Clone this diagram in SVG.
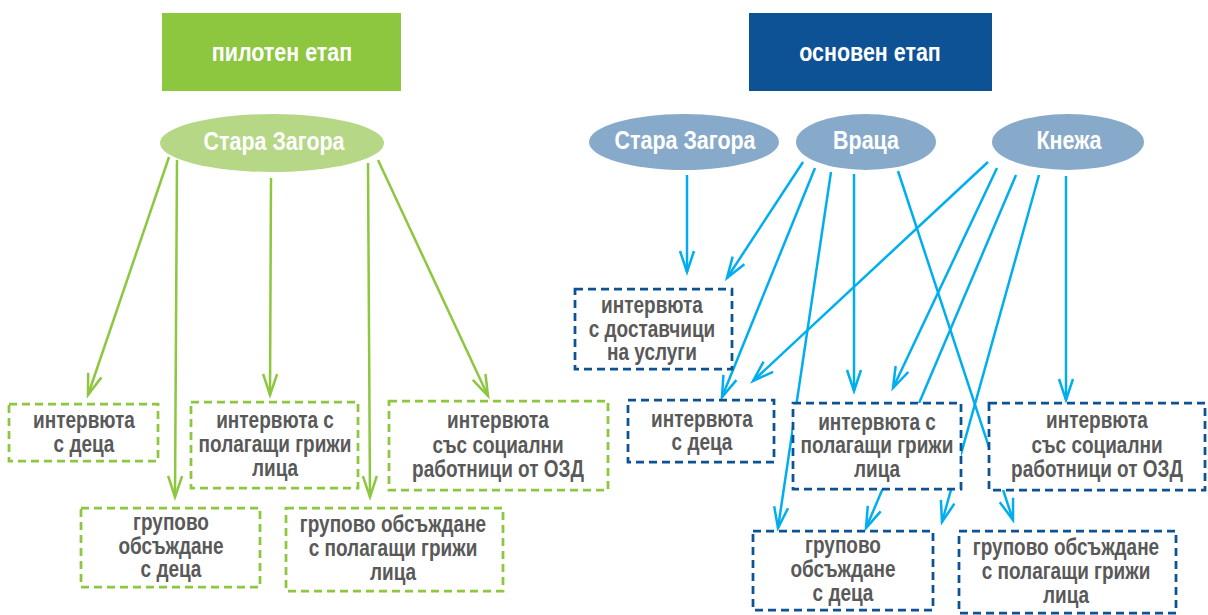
<svg xmlns="http://www.w3.org/2000/svg" width="1208" height="615" viewBox="0 0 1208 615">
<style>
.t{font-family:"Liberation Sans",Arial,sans-serif;font-weight:bold;font-size:23px;fill:#595959;text-anchor:middle}
.w{font-family:"Liberation Sans",Arial,sans-serif;font-weight:bold;font-size:26px;fill:#ffffff;text-anchor:middle}
.gb{fill:#ffffff;stroke:#8DC63F;stroke-width:2.75;stroke-dasharray:8 5}
.bb{fill:#ffffff;stroke:#0D5295;stroke-width:2.75;stroke-dasharray:8 5}
.gl{stroke:#8DC63F;stroke-width:2.5;fill:none;marker-end:url(#ag)}
.bl{stroke:#00AEEF;stroke-width:2.5;fill:none;marker-end:url(#ab)}
</style>
<defs>
<marker id="ag" viewBox="0 0 22 16" markerWidth="22" markerHeight="16" refX="21" refY="8" orient="auto" markerUnits="userSpaceOnUse" overflow="visible">
<path d="M0,1 L21,8 L0,15" fill="none" stroke="#8DC63F" stroke-width="2.5"/>
</marker>
<marker id="ab" viewBox="0 0 22 16" markerWidth="22" markerHeight="16" refX="21" refY="8" orient="auto" markerUnits="userSpaceOnUse" overflow="visible">
<path d="M0,1 L21,8 L0,15" fill="none" stroke="#00AEEF" stroke-width="2.5"/>
</marker>
</defs>

<g id="connectors">
<line class="gl" x1="169" y1="157" x2="88" y2="395"/>
<line class="gl" x1="177" y1="160" x2="175" y2="497"/>
<line class="gl" x1="271" y1="178" x2="270" y2="395"/>
<line class="gl" x1="368" y1="163" x2="370" y2="497"/>
<line class="gl" x1="378" y1="160" x2="488" y2="396"/>

<line class="bl" x1="687" y1="175" x2="687" y2="272"/>
<line class="bl" x1="803" y1="162" x2="727" y2="278"/>
<line class="bl" x1="815" y1="168" x2="722" y2="397"/>
<line class="bl" x1="831" y1="172" x2="778" y2="528"/>
<line class="bl" x1="854" y1="174" x2="854" y2="391"/>
<line class="bl" x1="898" y1="171" x2="1013" y2="520"/>
<line class="bl" x1="988" y1="162" x2="753" y2="381"/>
<line class="bl" x1="997" y1="168" x2="893" y2="388"/>
<line class="bl" x1="1016" y1="175" x2="866" y2="528"/>
<line class="bl" x1="1039" y1="175" x2="942" y2="522"/>
<line class="bl" x1="1066" y1="176" x2="1066" y2="400"/>
</g>

<g id="hdr-pilot">
<rect x="162" y="13" width="239" height="78" fill="#8DC63F"/>
<text class="w" transform="translate(282 0) scale(0.825 1)"><tspan x="0" y="61">пилотен етап</tspan></text>
</g>
<g id="hdr-main">
<rect x="749" y="13" width="243" height="78" fill="#0D5295"/>
<text class="w" transform="translate(870 0) scale(0.825 1)"><tspan x="0" y="61">основен етап</tspan></text>
</g>

<g id="g-sz">
<ellipse cx="272" cy="143" rx="112" ry="29" fill="#B5D786"/>
<text class="w" transform="translate(274 0) scale(0.825 1)"><tspan x="0" y="150">Стара Загора</tspan></text>
</g>
<g id="b-sz">
<ellipse cx="684" cy="142" rx="95" ry="28" fill="#88AACA"/>
<text class="w" transform="translate(685 0) scale(0.825 1)"><tspan x="0" y="149">Стара Загора</tspan></text>
</g>
<g id="b-vr">
<ellipse cx="866" cy="142" rx="70" ry="28" fill="#88AACA"/>
<text class="w" transform="translate(866 0) scale(0.825 1)"><tspan x="0" y="149">Враца</tspan></text>
</g>
<g id="b-kn">
<ellipse cx="1068" cy="142" rx="76" ry="28" fill="#88AACA"/>
<text class="w" transform="translate(1069 0) scale(0.825 1)"><tspan x="0" y="149">Кнежа</tspan></text>
</g>

<g id="g1">
<rect class="gb" x="9" y="404" width="149" height="57"/>
<text class="t" transform="translate(84 0) scale(0.825 1)"><tspan x="0" y="428">интервюта</tspan><tspan x="0" y="452">с деца</tspan></text>
</g>
<g id="g2">
<rect class="gb" x="191" y="402" width="167" height="86"/>
<text class="t" transform="translate(275 0) scale(0.825 1)"><tspan x="0" y="428">интервюта с</tspan><tspan x="0" y="452">полагащи грижи</tspan><tspan x="0" y="476">лица</tspan></text>
</g>
<g id="g3">
<rect class="gb" x="81" y="508" width="179" height="79"/>
<text class="t" transform="translate(171 0) scale(0.825 1)"><tspan x="0" y="530">групово</tspan><tspan x="0" y="554">обсъждане</tspan><tspan x="0" y="577">с деца</tspan></text>
</g>
<g id="g4">
<rect class="gb" x="286" y="508" width="217" height="83"/>
<text class="t" transform="translate(393 0) scale(0.825 1)"><tspan x="0" y="532">групово обсъждане</tspan><tspan x="0" y="556">с полагащи грижи</tspan><tspan x="0" y="580">лица</tspan></text>
</g>
<g id="g5">
<rect class="gb" x="389" y="401" width="219" height="89"/>
<text class="t" transform="translate(498 0) scale(0.825 1)"><tspan x="0" y="428">интервюта</tspan><tspan x="0" y="453">със социални</tspan><tspan x="0" y="477">работници от ОЗД</tspan></text>
</g>

<g id="bA">
<rect class="bb" x="575" y="289" width="157" height="80"/>
<text class="t" transform="translate(652 0) scale(0.825 1)"><tspan x="0" y="313">интервюта</tspan><tspan x="0" y="337">с доставчици</tspan><tspan x="0" y="360">на услуги</tspan></text>
</g>
<g id="bB">
<rect class="bb" x="628" y="400" width="146" height="62"/>
<text class="t" transform="translate(702 0) scale(0.825 1)"><tspan x="0" y="427">интервюта</tspan><tspan x="0" y="450">с деца</tspan></text>
</g>
<g id="bC">
<rect class="bb" x="793" y="403" width="168" height="86"/>
<text class="t" transform="translate(877 0) scale(0.825 1)"><tspan x="0" y="430">интервюта с</tspan><tspan x="0" y="453">полагащи грижи</tspan><tspan x="0" y="477">лица</tspan></text>
</g>
<g id="bD">
<rect class="bb" x="989" y="403" width="216" height="87"/>
<text class="t" transform="translate(1097 0) scale(0.825 1)"><tspan x="0" y="428">интервюта</tspan><tspan x="0" y="453">със социални</tspan><tspan x="0" y="477">работници от ОЗД</tspan></text>
</g>
<g id="bE">
<rect class="bb" x="753" y="531" width="180" height="79"/>
<text class="t" transform="translate(843 0) scale(0.825 1)"><tspan x="0" y="553">групово</tspan><tspan x="0" y="577">обсъждане</tspan><tspan x="0" y="601">с деца</tspan></text>
</g>
<g id="bF">
<rect class="bb" x="959" y="531" width="217" height="82"/>
<text class="t" transform="translate(1066 0) scale(0.825 1)"><tspan x="0" y="555">групово обсъждане</tspan><tspan x="0" y="579">с полагащи грижи</tspan><tspan x="0" y="603">лица</tspan></text>
</g>
</svg>
